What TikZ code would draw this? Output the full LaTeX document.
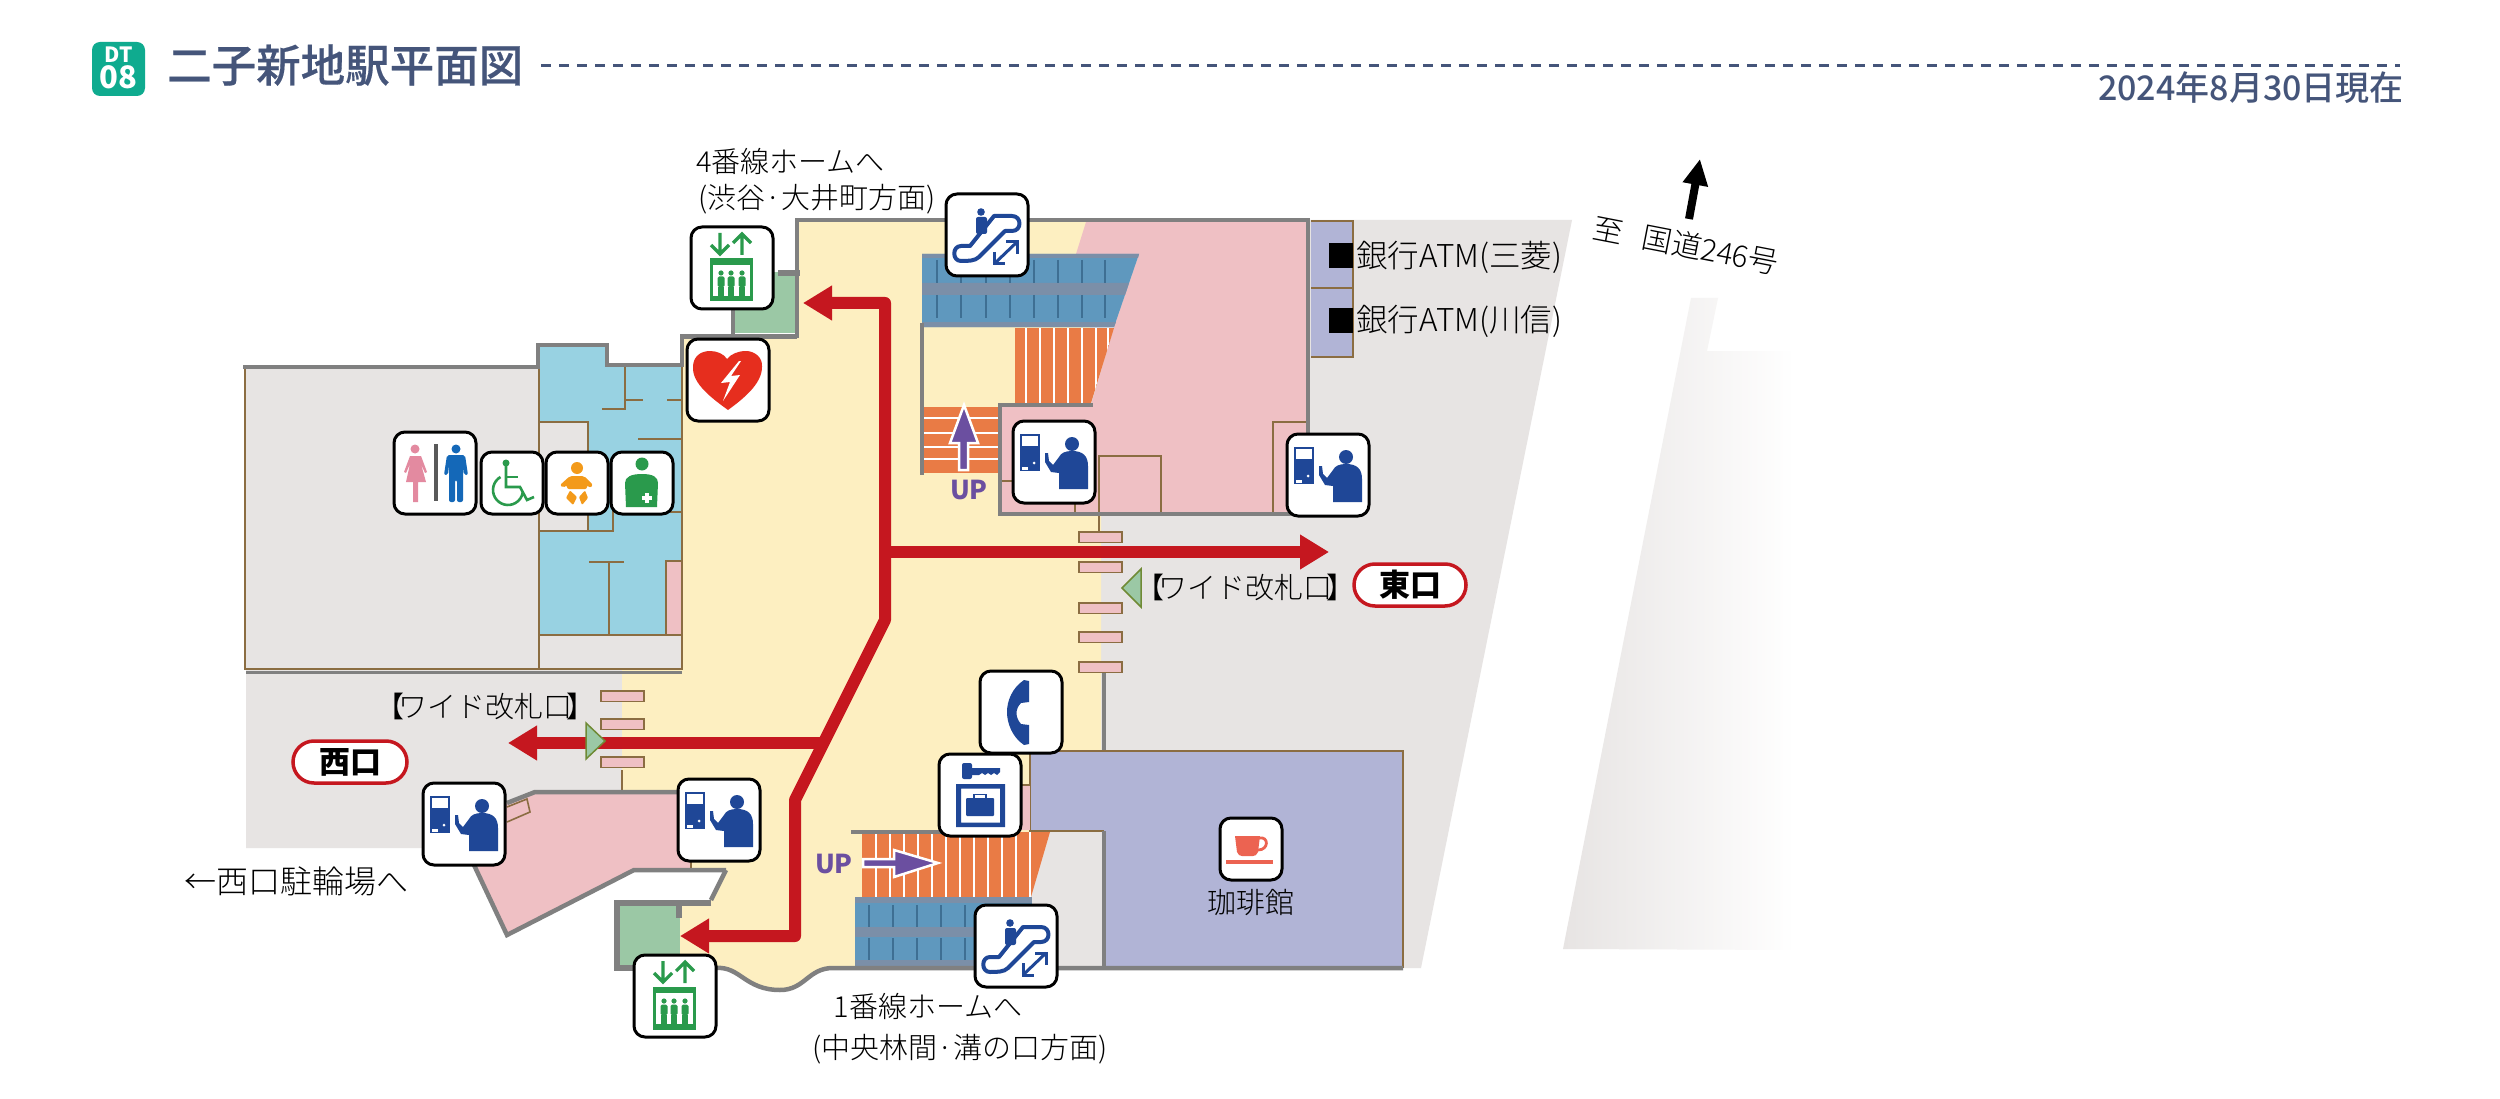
\documentclass[tikz,border=0pt]{standalone}
\usepackage{fontspec}
\usetikzlibrary{arrows.meta}
\setmainfont{Noto Sans CJK JP}
\newfontfamily\jp{Noto Sans CJK JP}
\IfFontExistsTF{Noto Sans CJK JP Light}{\newfontfamily\jpl{Noto Sans CJK JP Light}}{\newfontfamily\jpl{Noto Sans CJK JP}}
\IfFontExistsTF{Noto Sans CJK JP Medium}{\newfontfamily\jpm[FakeBold=0.4]{Noto Sans CJK JP Medium}\newfontfamily\jpd{Noto Sans CJK JP Medium}}{\newfontfamily\jpm{Noto Sans CJK JP}\newfontfamily\jpd{Noto Sans CJK JP}}
\definecolor{navy}{HTML}{45557A}
\definecolor{teal}{HTML}{0FAB8F}
\definecolor{graya}{HTML}{E7E4E3}
\definecolor{creamy}{HTML}{FDEFC1}
\definecolor{pinky}{HTML}{EFC0C4}
\definecolor{aqua}{HTML}{98D2E2}
\definecolor{lav}{HTML}{B1B4D6}
\definecolor{evgreen}{HTML}{9BC8A5}
\definecolor{wallc}{HTML}{808080}
\definecolor{brownc}{HTML}{8B6D42}
\definecolor{stairc}{HTML}{E97B45}
\definecolor{escb}{HTML}{5F98BE}
\definecolor{escg}{HTML}{7B8FA8}
\definecolor{escd}{HTML}{3E6F93}
\definecolor{routec}{HTML}{C5171F}
\definecolor{purp}{HTML}{6B4FA0}
\definecolor{iblue}{HTML}{1F4797}
\definecolor{igreen}{HTML}{2A9A4C}
\definecolor{iorange}{HTML}{F39A1A}
\definecolor{ired}{HTML}{E62E1E}
\definecolor{icoffee}{HTML}{EC6351}
\definecolor{ipink}{HTML}{E38AA0}
\definecolor{imale}{HTML}{1468B8}
\newcommand{\widegate}{【\kern-6pt ワイド改札口\kern-6pt 】}
\tikzset{
  wall/.style={draw=wallc,line width=4.5pt,line join=miter},
  wallthick/.style={draw=wallc,line width=6.5pt},
  thinb/.style={draw=brownc,line width=1.6pt},
  thickb/.style={draw=brownc,line width=2.5pt},
  gatebox/.style={fill=pinky,draw=brownc,line width=1.5pt},
  route/.style={draw=routec,line width=12pt,line join=round,-{Triangle[length=29pt,width=33pt]}},
  routetwo/.style={route,{Triangle[length=29pt,width=33pt]}-{Triangle[length=29pt,width=33pt]}},
  iconframe/.style={fill=white,draw=black,line width=3pt,rounded corners=11pt},
  lbl/.style={inner sep=0pt,font=\jpl\fontsize{29}{29}\selectfont,text=black},
  lblb/.style={lbl,font=\jpl\fontsize{31.5}{31.5}\selectfont},
  pill/.style={fill=white,draw=routec,line width=3.5pt,rounded corners=21pt,minimum height=42pt,inner sep=0pt,font=\jp\bfseries\fontsize{31}{31}\selectfont},
  uplabel/.style={inner sep=0pt,text=purp,font=\jp\bfseries\fontsize{26}{26}\selectfont},
  gatetri/.style={fill=evgreen,draw=brownc!80!green,line width=1.5pt},
  iconfare/.pic={
    \draw[iconframe] (0,0) rectangle (82,82);
    \fill[iblue] (7,13) rectangle (27,50);
    \fill[white] (9,15) rectangle (25,25);
    \fill[white] (21,42) circle[radius=1.5];
    \fill[white] (9,46) rectangle (15,49);
    \fill[iblue] (59,23) circle[radius=7];
    \fill[iblue] (46,68) -- (46,52) -- (38,51) -- (32,41) -- (32,32) -- (35,32) -- (36,40) -- (40,44) -- (46,36) .. controls (48,32) and (52,30) .. (59,30) .. controls (70,30) and (75,35) .. (75,45) -- (75,68) -- cycle;
  },
  iconev/.pic={
    \draw[iconframe] (0,0) rectangle (82,82);
    \begin{scope}[igreen]
    \draw[line width=3.2pt] (29,6) -- (29,27) (20,18) -- (29,27) -- (38,18);
    \draw[line width=3.2pt] (51,28) -- (51,7) (42,16) -- (51,7) -- (60,16);
    \draw[line width=3pt] (20,33) rectangle (60,73);
    \fill (20,33) rectangle (60,38);
    \fill (20,69) rectangle (60,73);
    \foreach \px in {30,40,51}{
      \fill (\px,46) circle[radius=2.6];
      \fill[rounded corners=1.5pt] (\px-3.5,49.5) rectangle (\px+3.5,60);
      \fill (\px-2.8,60) rectangle (\px-0.4,69);
      \fill (\px+0.4,60) rectangle (\px+2.8,69);
    }
    \end{scope}
  },
  iconesc/.pic={
    \draw[iconframe] (0,0) rectangle (82,82);
    \begin{scope}[iblue]
    \fill (35,18) circle[radius=3.8];
    \fill[rounded corners=2pt] (30,23) rectangle (41,40);
    \draw[line width=4pt,line join=round] (48,22) -- (66,22) .. controls (76,22) and (76,37) .. (66,37) -- (59,37) -- (33,63) .. controls (29,67) and (22,67) .. (15,67) .. controls (6,67) and (6,52) .. (15,52) -- (24,52) -- cycle;
    \draw[line width=3pt] (48,70) -- (71,48);
    \draw[line width=3pt] (60,48) -- (71,48) -- (71,60);
    \draw[line width=3pt] (48,58) -- (48,70) -- (59,70);
    \end{scope}
  },
  iconaed/.pic={
    \draw[iconframe] (0,0) rectangle (82,82);
    \fill[ired] (41,71) .. controls (26,60) and (5,45) .. (6,28) .. controls (6,18) and (13,12) .. (23,12) .. controls (30,12) and (37,15) .. (40,20) .. controls (44,15) and (51,12) .. (59,12) .. controls (68,12) and (76,19) .. (75,28) .. controls (75,45) and (56,60) .. (41,71) -- cycle;
    \fill[white] (52,22) -- (34,44) -- (43,43) -- (36,62) -- (53,36) -- (44,37) -- (54,22) -- cycle;
  },
  icontoilet/.pic={
    \draw[iconframe] (0,0) rectangle (82,82);
    \fill[ipink] (21,17) circle[radius=4.5];
    \fill[ipink] (16,24) -- (27,24) -- (33,40) -- (31,41) -- (27,32) -- (32,50) -- (24,50) -- (24,70) -- (19,70) -- (19,50) -- (12,50) -- (16,32) -- (12,41) -- (10,40) -- cycle;
    \fill[black!65] (40,12) rectangle (44,69);
    \fill[imale] (62,17) circle[radius=4.5];
    \fill[imale,rounded corners=2pt] (53,23) -- (71,23) -- (74,43) -- (70,43) -- (69,33) -- (69,70) -- (63,70) -- (63,48) -- (61,48) -- (61,70) -- (55,70) -- (55,33) -- (54,43) -- (50,43) -- cycle;
  },
  iconwc/.pic={
    \draw[iconframe] (0,0) rectangle (62,62);
    \begin{scope}[igreen]
    \fill (25,11) circle[radius=3.5];
    \draw[line width=2.6pt] (25,14) -- (25,35) -- (39,35) -- (46,48) -- (53,45);
    \draw[line width=2.6pt] (25,25) -- (37,25);
    \draw[line width=2.6pt] (19.5,25) arc[start angle=240,end angle=10,radius=15];
    \end{scope}
  },
  iconbaby/.pic={
    \draw[iconframe] (0,0) rectangle (62,62);
    \begin{scope}[iorange]
    \fill (31,16) circle[radius=6];
    \fill[rounded corners=2pt] (14,33) -- (24,24) -- (38,24) -- (47,33) -- (44,36) -- (41,33) -- (41,37) -- (21,37) -- (21,33) -- (17,36) -- cycle;
    \fill[rounded corners=1pt] (20,46) -- (24,38.5) -- (31,45) -- (27,53) -- cycle;
    \fill[rounded corners=1pt] (42,46) -- (39,38.5) -- (33,45) -- (36,53) -- cycle;
    \end{scope}
  },
  iconosto/.pic={
    \draw[iconframe] (0,0) rectangle (62,62);
    \fill[igreen] (31,12) circle[radius=6.5];
    \fill[igreen] (15,55) -- (14,31) .. controls (14,25) and (20,22) .. (31,22) .. controls (42,22) and (47,25) .. (47,31) -- (46,55) -- cycle;
    \fill[white] (34,41) rectangle (38,51);
    \fill[white] (31,44) rectangle (41,48);
  },
  iconphone/.pic={
    \draw[iconframe] (0,0) rectangle (82,82);
    \fill[iblue] (44,9) -- (49,10) -- (49,31) -- (41,32) .. controls (35,38) and (35,46) .. (41,53) -- (49,54) -- (49,73) -- (44,74) .. controls (32,66) and (27,52) .. (27,41) .. controls (27,30) and (32,17) .. (44,9) -- cycle;
  },
  iconlocker/.pic={
    \draw[iconframe] (0,0) rectangle (82,82);
    \begin{scope}[iblue]
    \fill[rounded corners=2pt] (23,9) rectangle (33,25);
    \fill (33,14) -- (61,14) -- (61,18) -- (58,21) -- (55,19) -- (52,21) -- (49,19) -- (46,21) -- (43,19) -- (40,21) -- (33,21) -- cycle;
    \fill[even odd rule] (17,30) rectangle (66,73) (22,34.5) rectangle (61,68.5);
    \fill[rounded corners=1pt] (27,44) rectangle (55,62);
    \draw[line width=1.8pt] (35,44) -- (35,40.5) -- (47,40.5) -- (47,44);
    \end{scope}
  },
  iconcoffee/.pic={
    \draw[iconframe] (0,0) rectangle (62,62);
    \begin{scope}[icoffee]
    \fill (15,18) -- (40,18) -- (38,34) .. controls (37,37) and (35,38) .. (33,38) -- (22,38) .. controls (20,38) and (18,37) .. (17,34) -- cycle;
    \draw[line width=2.8pt] (39,20) .. controls (49,18) and (49,32) .. (38,32);
    \fill (6,42) rectangle (53,46);
    \end{scope}
  },
}
\begin{document}
\begin{tikzpicture}[x=1pt,y=-1pt]
\useasboundingbox (0,0) rectangle (2500,1099);
\fill[white] (0,0) rectangle (2500,1099);

% title
\fill[teal,rounded corners=8pt] (92,42) rectangle (145,96);
\node[inner sep=0pt,text=white,font=\jp\bfseries\fontsize{21}{21}\selectfont] (dt) at (118.5,55) {DT};
\node[inner sep=0pt,text=white,font=\jp\bfseries\fontsize{31}{31}\selectfont] (num) at (118.5,77) {08};
\node[inner sep=0pt,anchor=west,text=navy,font=\jpm\fontsize{44.5}{44.5}\selectfont] (title) at (167,65) {二子新地駅平面図};
\draw[navy,line width=3pt,dash pattern=on 10pt off 8pt] (541,66) -- (2400,66);
\node[inner sep=0pt,anchor=east,text=navy,font=\jpd\fontsize{34}{34}\selectfont] (date) at (2404,88) {2024年8月30日現在};

% backdrop
\fill[graya] (1090,220) -- (1572,220) -- (1421,968) -- (1090,968) -- cycle;
\shade[left color=graya,right color=white,shading angle=90] (1691,298) -- (1718,298) -- (1707,351) -- (1795,351) -- (1795,950) -- (1563,949) -- cycle;
\fill[graya] (246,669) -- (622,669) -- (622,792) -- (535,792) -- (507,803) -- (470,848) -- (246,848) -- cycle;
\fill[graya] (245,367) rectangle (539,669);
\fill[graya] (539,635) rectangle (682,669);

% cream hall
\fill[creamy] (797,222) -- (1090,222) -- (1090,510) -- (1101,510) -- (1101,750) -- (1030,750) -- (1030,968) -- (833,968) .. controls (808,968) and (805,990) .. (780,990) .. controls (745,990) and (740,966) .. (716,968) -- (680,968) -- (680,900) -- (711,900) -- (726,870) -- (691,870) -- (691,792) -- (622,792) -- (622,669) -- (682,669) -- (682,338) -- (797,338) -- cycle;

% toilets
\fill[aqua] (539,345) -- (607,345) -- (607,365) -- (682,365) -- (682,635) -- (539,635) -- cycle;
\fill[graya] (539,422) rectangle (588,531);
\fill[pinky] (666,561) rectangle (681,635);
\draw[thinb] (245,367) -- (245,669) -- (682,669) -- (682,635);
\fill[black!50] (246,671) rectangle (682,674);
\draw[thinb] (539,367) -- (539,669);
\draw[thickb] (682,365) -- (682,669);
\draw[thinb] (625,367) -- (625,409) -- (602,409);
\draw[thinb] (625,400) -- (643,400) (667,400) -- (682,400);
\draw[thinb] (638,439) -- (682,439);
\draw[thinb] (539,422) -- (588,422) -- (588,531);
\draw[thinb] (539,531) -- (613,531) -- (613,505);
\draw[thinb] (670,512) -- (682,512);
\draw[thinb] (589,562) -- (624,562) (609,562) -- (609,635);
\draw[thinb] (539,635) -- (682,635);
\draw[thinb] (666,635) -- (666,561) -- (681,561);

% north pink office
\fill[pinky] (1086,222) -- (1308,222) -- (1308,512) -- (1002,512) -- (1002,405) -- (1091,405) -- (1114,327) -- (1139,254) -- (1076,254) -- cycle;
\draw[thinb] (1099,512) -- (1099,456) -- (1161,456) -- (1161,512);
\draw[thinb] (1273,512) -- (1273,422) -- (1308,422);
\draw[thinb] (1002,481) -- (1015,481) (1075,490) -- (1075,512);
\draw[thinb] (1099,512) -- (1099,532);

% ATM
\fill[lav] (1311,221) rectangle (1353,357);
\draw[thinb] (1311,221) -- (1353,221) -- (1353,357) -- (1311,357) (1311,288) -- (1353,288);
\fill[black] (1329,243) rectangle (1353,268);
\fill[black] (1329,308) rectangle (1353,333);

% upper stairs
\fill[stairc] (1015,328) -- (1114,328) -- (1091,403) -- (1015,403) -- cycle;
\begin{scope}
\clip (1015,328) -- (1114,328) -- (1091,403) -- (1015,403) -- cycle;
\foreach \sx in {1026,1040,1054,1068,1082,1096,1108}{
  \draw[white,line width=1.3pt] (\sx,328) -- (\sx,403);
}
\end{scope}
\fill[stairc] (922,407) rectangle (1002,473);
\foreach \sy in {418,433,447,459}{
  \draw[white,line width=1.3pt] (924,\sy) -- (1002,\sy);
}
% upper escalator
\fill[escb] (922,254) -- (1139,254) -- (1114,327) -- (922,327) -- cycle;
\fill[escg] (922,254) -- (1139,254) -- (1138,258) -- (922,258) -- cycle;
\fill[escg] (922,283) -- (1129,283) -- (1125,295) -- (922,295) -- cycle;
\fill[escg] (922,322) -- (1116,322) -- (1114,327) -- (922,327) -- cycle;
\foreach \ex in {937,961,986,1010,1034,1058,1082,1105}{
  \draw[escd,line width=1.4pt] (\ex,260) -- (\ex,283) (\ex,295) -- (\ex,318);
}

% lower stairs and escalator
\fill[graya] (1050,832) -- (1101,832) -- (1101,966) -- (1030,966) -- (1030,897) -- cycle;
\fill[stairc] (862,832) -- (1050,832) -- (1031,897) -- (862,897) -- cycle;
\begin{scope}
\clip (862,832) -- (1050,832) -- (1031,897) -- (862,897) -- cycle;
\foreach \sx in {876,890,904,918,932,946,960,974,988,1002,1016,1030}{
  \draw[white,line width=1.3pt] (\sx,832) -- (\sx,897);
}
\end{scope}
\fill[escb] (855,897) rectangle (1032,965);
\fill[escg] (855,897) rectangle (1032,903);
\fill[escg] (855,927) rectangle (1032,937);
\fill[escg] (855,960) rectangle (1032,968);
\foreach \ex in {869,893,917,941,965,989,1013}{
  \draw[escd,line width=1.4pt] (\ex,905) -- (\ex,927) (\ex,938) -- (\ex,960);
}

% cafe
\fill[lav] (1030,751) -- (1403,751) -- (1403,968) -- (1104,968) -- (1104,831) -- (1030,831) -- cycle;
\draw[thickb,line width=2pt] (1104,831) -- (1030,831) -- (1030,751) -- (1403,751) -- (1403,968);
\fill[pinky] (1021,785) rectangle (1030,830);
\draw[thinb] (1021,785) -- (1030,785);

% west pink office
\fill[pinky] (507,803) -- (535,792) -- (691,792) -- (691,870) -- (634,870) -- (507,935) -- (474,865) -- cycle;
\draw[thinb] (507,807) -- (527,799) -- (530,812) -- (507,822);
\draw[thinb] (622,770) -- (622,792);
\draw[thinb] (691,860) -- (691,870);

% elevator rooms
\fill[evgreen] (735,272) rectangle (797,333);
\fill[evgreen] (620,905) rectangle (680,965);

% walls
\draw[wall] (243,367) -- (538,367) -- (538,345) -- (607,345) -- (607,365) -- (682,365) -- (682,336.5) -- (733,336.5) -- (733,310);
\draw[wall] (735,336.5) -- (797,336.5);
\draw[wall] (797,338) -- (797,220) -- (1308,220) -- (1308,514) -- (1000,514) -- (1000,405) -- (1093,405);
\draw[wallthick] (778,273) -- (800,273);
\draw[wall] (922,323) -- (922,475);
\draw[wall] (507,803) -- (535,792) -- (691,792);
\draw[wall] (726,870) -- (634,870) -- (507,935) -- (474,865);
\draw[wall] (726,870) -- (711,900);
\draw[wallthick] (711,903) -- (617,903) -- (617,968) -- (680,968);
\draw[wallthick] (679,905) -- (679,918);
\draw[wall] (678,968) -- (716,968) .. controls (740,966) and (745,990) .. (780,990) .. controls (805,990) and (808,968) .. (833,968) -- (1403,968);
\draw[wall] (851,832) -- (941,832);
\draw[wall] (1104,672) -- (1104,750) (1104,831) -- (1104,968);

% gates
\foreach \gy in {691,719,757}{
  \draw[gatebox] (601,\gy) rectangle (644,\gy+10.5);
}
\foreach \gy in {532,562,603,632,662}{
  \draw[gatebox] (1079,\gy) rectangle (1122,\gy+10.5);
}

% route
\coordinate (evn) at (803,303);
\coordinate (rn) at (885,303);
\coordinate (rm) at (885,620);
\coordinate (rd) at (795,800);
\coordinate (rs) at (795,936);
\coordinate (evs) at (680,936);
\coordinate (re) at (885,552);
\coordinate (ree) at (1329,552);
\coordinate (rw) at (826,743);
\coordinate (rww) at (508,743);
\draw[route] (rw) -- (rww);
\draw[route] (re) -- (ree);
\draw[routetwo] (evn) -- (rn) -- (rm) -- (rd) -- (rs) -- (evs);

\draw[gatetri] (586,723) -- (605,741) -- (586,759) -- cycle;
\draw[gatetri] (1141,569) -- (1122,588) -- (1141,607) -- cycle;

% UP arrows
\draw[fill=purp,draw=white,line width=2.5pt] (964,405) -- (978,443) -- (968,443) -- (968,470) -- (959,470) -- (959,443) -- (950,443) -- cycle;
\draw[fill=purp,draw=white,line width=2.5pt] (938,863) -- (894,877) -- (894,867) -- (863,867) -- (863,859) -- (894,859) -- (894,850) -- cycle;
\node[uplabel] (upn) at (969,490) {UP};
\node[uplabel] (ups) at (834,864) {UP};

% north arrow
\coordinate (na) at (1689,219);
\coordinate (nb) at (1700,159);
\draw[black,line width=8pt,-{Triangle[length=26pt,width=24pt]}] (na) -- (nb);

% icons
\pic (escn) at (946,194) {iconesc};
\pic (evnn) at (691,227) {iconev};
\pic (aed) at (687,339) {iconaed};
\pic (wc) at (394,432) {icontoilet};
\pic (whl) at (481,452) {iconwc};
\pic (baby) at (546,452) {iconbaby};
\pic (osto) at (611,452) {iconosto};
\pic (fare1) at (1013,421) {iconfare};
\pic (fare2) at (1287,434) {iconfare};
\pic (fare3) at (423,783) {iconfare};
\pic (fare4) at (678,779) {iconfare};
\pic (evss) at (634,955) {iconev};
\pic (phone) at (980,671) {iconphone};
\pic (locker) at (939,754) {iconlocker};
\pic (escs) at (975,905) {iconesc};
\pic (coffee) at (1220,818) {iconcoffee};

% labels
\node[lbl,anchor=west] (l4a) at (696,161) {4番線ホームへ};
\node[lbl,anchor=west] (l4b) at (698,199) {(渋谷·大井町方面)};
\node[lblb,anchor=west] (atm1) at (1356,257) {銀行ATM(三菱)};
\node[lblb,anchor=west] (atm2) at (1356,321) {銀行ATM(川信)};
\node[lbl,anchor=center,rotate=-11,font=\jpl\fontsize{30}{30}\selectfont] (road) at (1686,245) {至\kern20pt 国道246号};
\node[lbl,anchor=center] (wide1) at (1245,587) {\widegate};
\node[lbl,anchor=center] (wide2) at (485,706) {\widegate};
\node[pill,minimum width=112pt] (east) at (1410,585) {東口};
\node[pill,minimum width=114pt] (west) at (350,762) {西口};
\node[lblb,anchor=west,font=\jpl\fontsize{32}{32}\selectfont] (bike) at (184,881) {←西口駐輪場へ};
\node[lbl,anchor=center] (l1a) at (928,1006) {1番線ホームへ};
\node[lbl,anchor=center] (l1b) at (960,1049) {(中央林間·溝の口方面)};
\node[lbl,anchor=center] (cafe) at (1251,903) {珈琲館};
\end{tikzpicture}
\end{document}
